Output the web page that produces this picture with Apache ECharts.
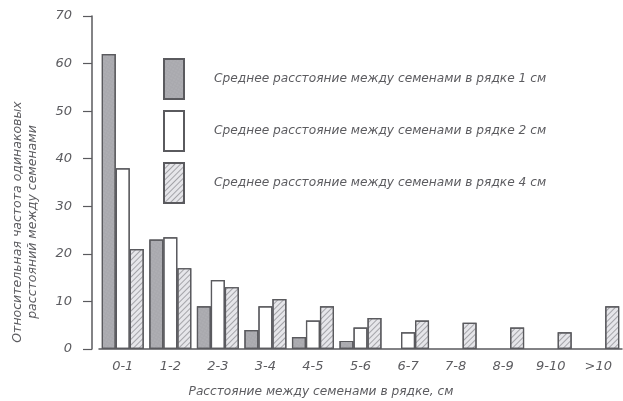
<!DOCTYPE html>
<html>
<head>
<meta charset="utf-8">
<script src="https://cdn.jsdelivr.net/npm/echarts@6/dist/echarts.min.js"></script>
<style>
  html, body { margin: 0; padding: 0; background: #fff; }
  #chart { width: 623px; height: 401px; }
</style>
</head>
<body>
<div id="chart"></div>
<script>
'use strict';

const categories = ['0-1', '1-2', '2-3', '3-4', '4-5', '5-6', '6-7', '7-8', '8-9', '9-10', '>10'];
const seriesNames = [
  'Среднее расстояние между семенами в рядке 1 см',
  'Среднее расстояние между семенами в рядке 2 см',
  'Среднее расстояние между семенами в рядке 4 см'
];
const spacing1 = [62, 23, 9, 4, 2.5, 1.7, null, null, null, null, null];
const spacing2 = [38, 23.5, 14.5, 9, 6, 4.5, 3.5, null, null, null, null];
const spacing4 = [21, 17, 13, 10.5, 9, 6.5, 6, 5.5, 4.5, 3.5, 9];
const yTicks = [0, 10, 20, 30, 40, 50, 60, 70];

const font = 'DejaVu Sans';
const ink = '#5c5c60';
const edge = '#5a5a5e';

const chart = echarts.init(document.getElementById('chart'));

const bar = (name, data, color, decal) => ({
  name: name,
  type: 'bar',
  data: data,
  barWidth: 14,
  barGap: '0%',
  itemStyle: {color: color, borderColor: edge, borderWidth: 1.2, decal: decal}
});

chart.setOption({
  animation: false,
  aria: {enabled: true, decal: {show: true}},
  grid: {left: 99, right: 1, top: 16, bottom: 52, containLabel: false},
  legend: {
    orient: 'vertical',
    left: 158,
    top: 53,
    icon: 'rect',
    itemWidth: 20,
    itemHeight: 40,
    itemGap: 10,
    selectedMode: false,
    textStyle: {fontFamily: font, fontStyle: 'italic', fontSize: 12.2, color: ink, padding: [0, 0, 0, 25]},
    data: seriesNames
  },
  xAxis: {
    type: 'category',
    data: categories,
    axisLine: {lineStyle: {color: edge, width: 1.5}},
    axisTick: {show: false},
    axisLabel: {fontFamily: font, fontStyle: 'italic', fontSize: 13, color: ink, margin: 11, interval: 0}
  },
  yAxis: {
    type: 'value',
    min: yTicks[0],
    max: yTicks[yTicks.length - 1],
    interval: 10,
    offset: 7,
    axisLine: {show: true, lineStyle: {color: edge, width: 1.5}},
    axisTick: {show: true, length: 9, lineStyle: {color: edge, width: 1.2}},
    splitLine: {show: false},
    axisLabel: {fontFamily: font, fontStyle: 'italic', fontSize: 13, color: ink, margin: 20}
  },
  graphic: [{
    type: 'text',
    x: 25,
    y: 222,
    rotation: Math.PI / 2,
    style: {
      text: 'Относительная частота одинаковых\nрасстояний между семенами',
      fontFamily: font, fontStyle: 'italic', fontSize: 12.5, lineHeight: 15,
      fill: ink, align: 'center', verticalAlign: 'middle'
    }
  }, {
    type: 'text',
    x: 321,
    y: 392,
    style: {
      text: 'Расстояние между семенами в рядке, см',
      fontFamily: font, fontStyle: 'italic', fontSize: 12.2,
      fill: ink, align: 'center', verticalAlign: 'middle'
    }
  }],
  series: [
    bar(seriesNames[0], spacing1, '#a9a9ae', {
      symbol: 'circle', symbolSize: 0.6, dashArrayX: [2, 1], dashArrayY: [2, 1], color: 'rgba(255,255,255,0.25)'
    }),
    bar(seriesNames[1], spacing2, '#ffffff', {symbol: 'rect', color: 'rgba(255,255,255,0)'}),
    bar(seriesNames[2], spacing4, '#e6e6ea', {
      symbol: 'rect', symbolSize: 1, dashArrayX: [1, 0], dashArrayY: [1, 3], rotation: -Math.PI / 4, color: 'rgba(110,110,115,0.55)'
    })
  ]
});
</script>
</body>
</html>
